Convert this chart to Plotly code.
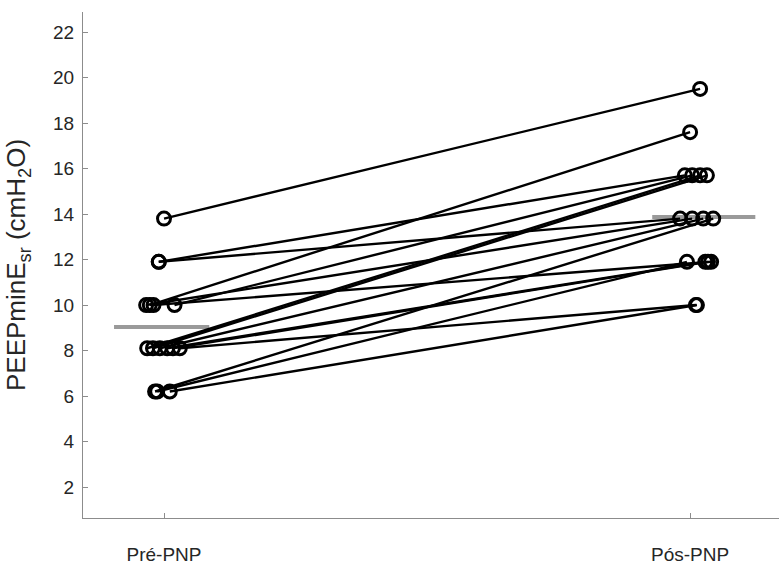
import plotly.graph_objects as go

# ---- data ----
categories = ["Pré-PNP", "Pós-PNP"]
pre_values = [13.8, 10.0, 11.9, 10.0, 8.1, 8.1, 6.2, 11.9, 10.0, 8.1, 6.2, 8.1, 8.1, 10.0, 8.1, 6.2]
post_values = [19.5, 17.6, 15.7, 15.7, 15.7, 15.7, 11.9, 13.8, 13.8, 13.8, 13.8, 11.9, 11.9, 11.9, 10.0, 10.0]
# horizontal jitter of each subject's marker (category units)
pre_jitter = [0.0, -0.027, -0.01, 0.02, -0.032, -0.021, -0.013, -0.01, -0.034, -0.008, -0.017, 0.006, 0.017, -0.02, 0.03, 0.011]
post_jitter = [0.019, 0.0, -0.01, 0.004, 0.019, 0.032, -0.006, -0.019, 0.004, 0.025, 0.044, 0.029, 0.034, 0.04, 0.011, 0.013]
summary_values = [9.03, 13.87]
summary_x0 = [0.905, 1.928]
summary_x1 = [1.086, 2.124]
y_ticks = [2, 4, 6, 8, 10, 12, 14, 16, 18, 20, 22]

fig = go.Figure()

# summary (gray) bars
for v, a, b in zip(summary_values, summary_x0, summary_x1):
    fig.add_trace(go.Scatter(x=[a, b], y=[v, v], mode="lines",
                             line=dict(color="#9a9a9a", width=4),
                             hoverinfo="skip", showlegend=False))

# subject lines
for p, q, jp, jq in zip(pre_values, post_values, pre_jitter, post_jitter):
    fig.add_trace(go.Scatter(
        x=[1 + jp, 2 + jq], y=[p, q], mode="lines+markers",
        line=dict(color="black", width=2.4),
        marker=dict(symbol="circle-open", size=13, color="black",
                    line=dict(width=3, color="black")),
        showlegend=False))

fig.update_layout(
    width=779, height=567,
    margin=dict(l=83, r=0, t=12, b=49),
    paper_bgcolor="white", plot_bgcolor="white",
    font=dict(family="Liberation Sans, Arial, sans-serif", size=19, color="#262626"),
)
fig.update_xaxes(
    range=[0.846, 2.169], tickvals=[1, 2], ticktext=categories,
    showline=True, linecolor="#8c8c8c", linewidth=1.3,
    ticks="inside", ticklen=5, tickcolor="#8c8c8c",
    showgrid=False, zeroline=False, ticklabelstandoff=19,
    tickfont=dict(size=19, color="#262626"),
)
fig.update_yaxes(
    range=[0.64, 22.88], tickvals=y_ticks,
    showline=True, linecolor="#8c8c8c", linewidth=1.3,
    ticks="inside", ticklen=5, tickcolor="#8c8c8c",
    showgrid=False, zeroline=False, ticklabelstandoff=4,
    tickfont=dict(size=19, color="#262626"),
    title=dict(text="PEEPminE<sub>sr</sub> (cmH<sub>2</sub>O)", standoff=19,
               font=dict(size=26, color="#262626")),
)

fig.write_html("out.html")
